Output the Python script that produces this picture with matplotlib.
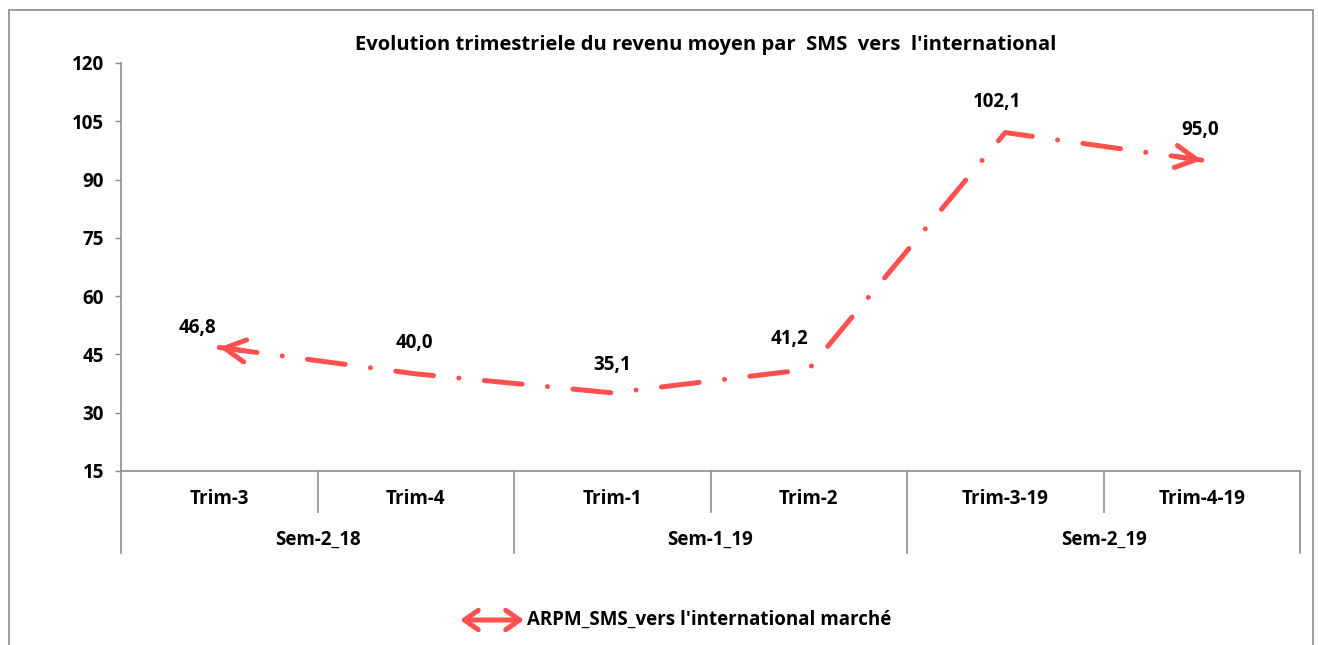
import numpy as np
import matplotlib.pyplot as plt
from matplotlib.patches import Rectangle, FancyArrowPatch

plt.rcParams['font.family'] = ['Open Sans', 'DejaVu Sans']

# data
trims = ['Trim-3', 'Trim-4', 'Trim-1', 'Trim-2', 'Trim-3-19', 'Trim-4-19']
semesters = ['Sem-2_18', 'Sem-1_19', 'Sem-2_19']
values = [46.8, 40.0, 35.1, 41.2, 102.1, 95.0]
labels = ['46,8', '40,0', '35,1', '41,2', '102,1', '95,0']
yticks = [15, 30, 45, 60, 75, 90, 105, 120]
series_name = "ARPM_SMS_vers l'international marché"
title = "Evolution trimestriele du revenu moyen par  SMS  vers  l'international"

# label offsets (pixels, right/up)
label_offsets = [(-22, 19), (-1, 31), (0, 28), (-19, 30), (-8, 31), (-2, 30)]

red = '#FF5050'
grey = '#8C8C8C'
px = 0.72  # points per pixel at dpi 100
fs = 13.5

fig = plt.figure(figsize=(13.18, 6.45), dpi=100)
ax = fig.add_axes([121/1318, 1 - 471/645, (1300-121)/1318, (471-63)/645])

# outer frame
fig.patches.append(Rectangle((9/1318, -0.05), (1313-9)/1318, 1.05 - 10/645,
                             transform=fig.transFigure, fill=False,
                             edgecolor=grey, lw=1.2))

x = np.arange(len(values))
lw = 5 * px
ax.plot(x, values, color=red, lw=lw, linestyle=(0, (7.6, 5.1, 0.01, 5.1)),
        dash_capstyle='round', solid_capstyle='round')

# arrow heads at both ends
def head(i, j):
    p = np.array([x[i], values[i]], float)
    q = np.array([x[j], values[j]], float)
    a = p + 0.12 * (q - p)
    ax.add_patch(FancyArrowPatch(tuple(a), tuple(p),
                                 arrowstyle='->,head_length=15,head_width=8',
                                 mutation_scale=1, lw=lw, color=red,
                                 capstyle='round', joinstyle='round',
                                 shrinkA=0, shrinkB=0, clip_on=False))

head(0, 1)
head(len(values) - 1, len(values) - 2)

for xi, v, lab, off in zip(x, values, labels, label_offsets):
    ax.annotate(lab, (xi, v), xytext=(off[0]*px, off[1]*px), textcoords='offset points',
                ha='center', va='center', fontsize=fs, fontweight='bold')

ax.set_xlim(-0.5, len(values) - 0.5)
ax.set_ylim(15, 120)
ax.set_yticks(yticks)
ax.set_yticklabels([str(t) for t in yticks], fontsize=fs, fontweight='bold')
ax.set_xticks([])
ax.tick_params(axis='y', length=6*px, width=1, color=grey, pad=8)
for s in ['top', 'right']:
    ax.spines[s].set_visible(False)
for s in ['left', 'bottom']:
    ax.spines[s].set_color(grey)
    ax.spines[s].set_linewidth(1.2)

# category axis with two levels
tr = ax.get_xaxis_transform()
y_mid = -41/408
y_low = -82/408
for k in range(len(trims) + 1):
    b = k - 0.5
    bottom = y_low if k % 2 == 0 else y_mid
    ax.plot([b, b], [0, bottom], color=grey, lw=1.2, transform=tr, clip_on=False)
for xi, t in zip(x, trims):
    ax.text(xi, -28/408, t, transform=tr, ha='center', va='center',
            fontsize=fs, fontweight='bold')
for k, s in enumerate(semesters):
    ax.text(2*k + 0.5, -69/408, s, transform=tr, ha='center', va='center',
            fontsize=fs, fontweight='bold')

fig.text(706/1318, 1 - 45/645, title, ha='center', va='center',
         fontsize=14.5, fontweight='bold')

# legend
ly = 1 - 620/645
fig.patches.append(FancyArrowPatch((460/1318, ly), (524/1318, ly), transform=fig.transFigure,
                                   arrowstyle='<->,head_length=10,head_width=7',
                                   mutation_scale=1, lw=lw, color=red,
                                   capstyle='round', joinstyle='round',
                                   shrinkA=0, shrinkB=0))
fig.text(527/1318, ly, series_name, ha='left', va='center',
         fontsize=fs, fontweight='bold')

fig.savefig('out.png', dpi=100)
